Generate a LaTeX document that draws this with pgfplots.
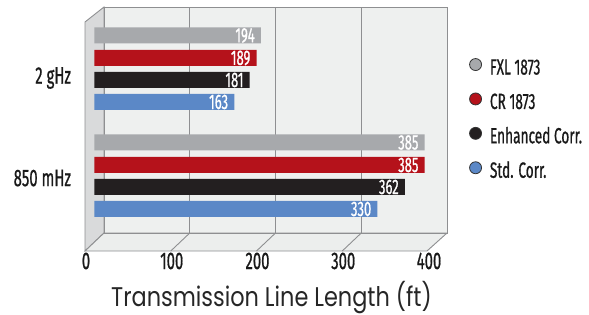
\documentclass[border=0pt]{standalone}
\usepackage{fontspec}
\setmainfont{Fira Sans}[FakeStretch=0.62, FakeBold=0.7]
\newfontfamily\titlefont{Poppins}[FakeStretch=0.83]
\usepackage{pgfplots}
\pgfplotsset{compat=1.18}
\definecolor{cgray}{HTML}{A7A9AC}
\definecolor{cred}{HTML}{B5121B}
\definecolor{cblack}{HTML}{231F20}
\definecolor{cblue}{HTML}{5B88C7}
\definecolor{wallback}{HTML}{EEF0EF}
\definecolor{floorc}{HTML}{ECEEED}
\definecolor{leftwall}{HTML}{D9DADB}
\definecolor{linegray}{HTML}{8E8F91}
\begin{document}
\begin{tikzpicture}
\path[use as bounding box] (0,0) rectangle (589pt,-315pt);
% back wall, floor, left wall
\begin{axis}[
  anchor=origin, at={(104pt,-233pt)},
  scale only axis, width=343pt, height=226pt,
  xmin=0, xmax=400, ymin=0, ymax=226,
  axis line style={draw=none},
  ytick=\empty,
  xtick={0,100,200,300,400},
  major tick length=0pt,
  /pgf/number format/assume math mode=true,
  tick label style={font=\fontsize{24}{24}\selectfont, text=black!90},
  xticklabel style={anchor=center, xshift=-18pt, yshift=-28pt},
  xlabel={\titlefont Transmission Line Length (ft)},
  xlabel style={at={(axis description cs:0.5,0)}, anchor=base, xshift=-4pt, yshift=-73pt, font=\fontsize{27}{27}\selectfont, text=black!85},
  clip=false,
]
\fill[wallback] (axis cs:0,0) rectangle (axis cs:400,226);
\filldraw[fill=leftwall, draw=linegray, line width=0.9pt] (axis cs:0,0) -- (axis cs:0,226) -- ([shift={(-19pt,-15pt)}]axis cs:0,226) -- ([shift={(-19pt,-18pt)}]axis cs:0,0) -- cycle;
\filldraw[fill=floorc, draw=linegray, line width=0.9pt] (axis cs:0,0) -- (axis cs:400,0) -- ([shift={(-20pt,-18pt)}]axis cs:400,0) -- ([shift={(-19pt,-18pt)}]axis cs:0,0) -- cycle;
\draw[linegray, line width=0.9pt] (axis cs:0,0) rectangle (axis cs:400,226);
\pgfplotsinvokeforeach{100,200,300}{
  \draw[linegray, line width=0.9pt] (axis cs:#1,0) -- (axis cs:#1,226);
  \draw[linegray, line width=0.9pt] (axis cs:#1,0) -- ([shift={(-19pt,-18pt)}]axis cs:#1,0);
}
\end{axis}
% bars
\begin{axis}[
  anchor=origin, at={(94.5pt,-241.5pt)},
  scale only axis, width=343pt, height=226pt,
  xmin=0, xmax=400, ymin=0, ymax=226,
  axis line style={draw=none},
  xtick=\empty,
  ytick={63.5,163.5},
  yticklabels={850 mHz, 2 gHz},
  major tick length=0pt,
  yticklabel style={font=\fontsize{24}{24}\selectfont, text=black!90, anchor=east, xshift=-20pt},
  xbar, bar width=16pt, bar shift=0pt,
  nodes near coords,
  every node near coord/.append style={anchor=east, xshift=-6pt, inner sep=0pt, text=white, font=\fontsize{21}{21}\selectfont},
  /pgf/number format/assume math mode=true,
  legend style={at={(1.083,0.821)}, anchor=north west, draw=none, fill=none,
    font=\fontsize{22}{22}\selectfont, text=black!90,
    nodes={inner sep=0pt, text height=14pt, text depth=4pt},
    row sep=14pt, /tikz/every odd column/.append style={column sep=8pt}},
  legend cell align=left,
  clip=false,
]
\addplot[fill=cgray, draw=none, legend image code/.code={\draw[fill=cgray, draw=black!80, line width=0.8pt] (6pt,5pt) circle (6pt);}] coordinates {(194,206) (385,99)};
\addplot[fill=cred, draw=none, legend image code/.code={\draw[fill=cred, draw=black!80, line width=0.8pt] (6pt,5pt) circle (6pt);}] coordinates {(189,183.5) (385,76.5)};
\addplot[fill=cblack, draw=none, legend image code/.code={\draw[fill=cblack, draw=black!80, line width=0.8pt] (6pt,5pt) circle (6pt);}] coordinates {(181,161.5) (362,54.5)};
\addplot[fill=cblue, draw=none, legend image code/.code={\draw[fill=cblue, draw=black!80, line width=0.8pt] (6pt,5pt) circle (6pt);}] coordinates {(163,139.5) (330,32.5)};
\legend{FXL 1873, CR 1873, Enhanced Corr., Std. Corr.}
\end{axis}
\end{tikzpicture}
\end{document}
